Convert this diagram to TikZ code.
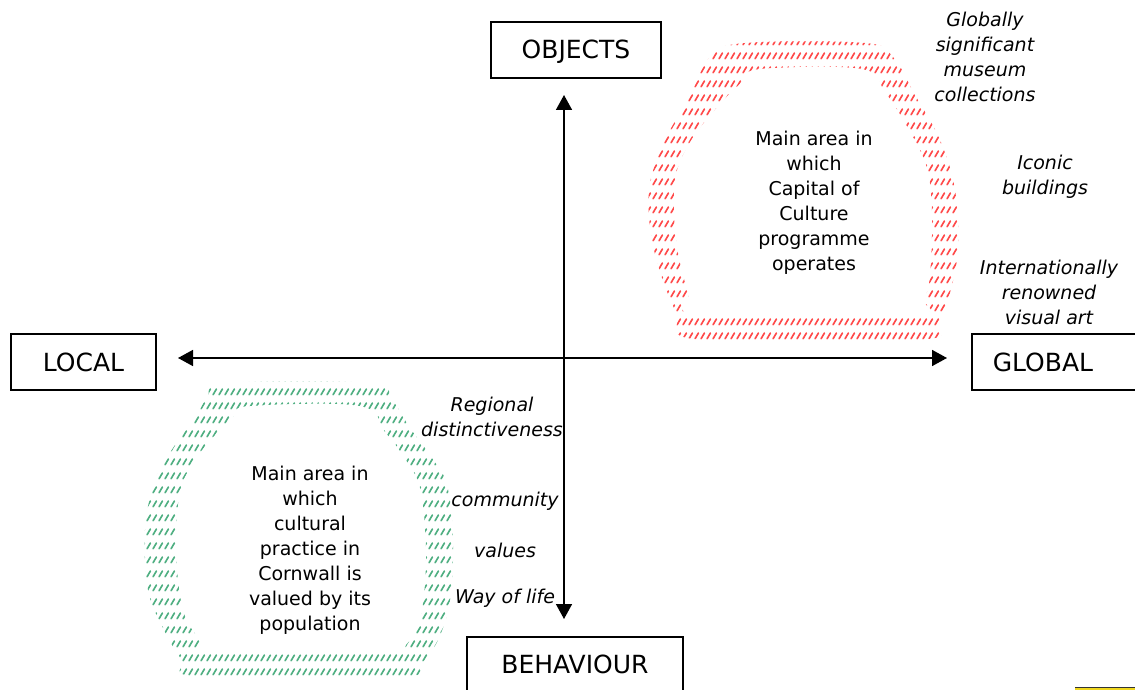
\documentclass[tikz,border=0pt]{standalone}
\usepackage{fontspec}
\setmainfont{DejaVu Sans}
\usetikzlibrary{arrows.meta,patterns}
\pgfdeclarepatternformonly{slashrows}{\pgfqpoint{0pt}{0pt}}{\pgfqpoint{6.4pt}{14pt}}{\pgfqpoint{6.4pt}{14pt}}{%
  \pgfsetlinewidth{1.8pt}\pgfsetroundcap
  \pgfpathmoveto{\pgfqpoint{1.2pt}{1.4pt}}\pgfpathlineto{\pgfqpoint{4.8pt}{7.4pt}}\pgfusepath{stroke}}
\definecolor{hatchred}{RGB}{255,75,75}
\definecolor{hatchgreen}{RGB}{80,175,130}
\definecolor{tagyellow}{RGB}{240,215,30}
\tikzset{
  labelbox/.style={draw, line width=1.5pt, font=\fontsize{25}{30}\selectfont, inner sep=0pt, text height=18pt, text depth=0pt},
  bodytext/.style={font=\fontsize{19}{25}\selectfont, align=center, inner sep=0pt},
  notetext/.style={font=\fontsize{19}{25}\selectfont\itshape, align=center, inner sep=0pt},
  axis/.style={line width=1.6pt, {Triangle[length=15pt,width=16pt]}-{Triangle[length=15pt,width=16pt]}},
  ring/.style={pattern=slashrows, even odd rule}
}
\begin{document}
\begin{tikzpicture}[x=1pt,y=-1pt]
\useasboundingbox (0,0) rectangle (1135,690);

% hatched rings
\fill[ring, pattern color=hatchred]
  plot[smooth cycle, tension=0.6] coordinates {(745,43) (865,43) (893,57) (915,95) (940,140) (955,190) (958,250) (948,300) (938,322) (920,340) (700,340) (676,312) (654,250) (649,190) (665,140) (688,100) (710,57)}
  plot[smooth cycle, tension=0.6] coordinates {(760,69) (862,69) (885,92) (908,128) (927,168) (932,215) (930,275) (924,300) (912,315) (702,316) (688,292) (676,240) (675,180) (690,142) (718,106) (742,82)};
\fill[ring, pattern color=hatchgreen]
  plot[smooth cycle, tension=0.6] coordinates {(227,383) (370,383) (392,400) (410,428) (432,458) (447,485) (453,540) (450,600) (438,640) (420,665) (400,677) (200,677) (182,660) (164,630) (148,590) (145,530) (155,480) (175,445) (195,418) (207,398)}
  plot[smooth cycle, tension=0.6] coordinates {(250,406) (360,406) (385,432) (406,460) (421,492) (426,560) (420,620) (406,645) (392,653) (215,653) (200,640) (183,610) (176,550) (180,492) (195,460) (215,435) (235,415)};

% axes
\coordinate (vtop) at (564,95);
\coordinate (vbot) at (564,619);
\coordinate (hleft) at (178,358);
\coordinate (hright) at (947,358);
\draw[axis] (vtop) -- (vbot);
\draw[axis] (hleft) -- (hright);

% label boxes
\node[labelbox, minimum width=170pt, minimum height=56pt] (objects) at (576,50) {OBJECTS};
\node[labelbox, minimum width=145pt, minimum height=56pt] (local) at (83.5,362) {LOCAL};
\node[labelbox, anchor=west, minimum height=56pt, text width=170pt, align=left, inner xsep=21pt] (global) at (971,362) {GLOBAL};
\node[labelbox, anchor=north, minimum width=216pt, minimum height=56pt] (behaviour) at (575,636) {BEHAVIOUR};

% area texts
\node[bodytext] (capital) at (814,202.5) {Main area in\\which\\Capital of\\Culture\\programme\\operates};
\node[bodytext] (cornwall) at (310,550.5) {Main area in\\which\\cultural\\practice in\\Cornwall is\\valued by its\\population};

% notes
\node[notetext] (museum) at (985,56.5) {Globally\\significant\\museum\\collections};
\node[notetext] (iconic) at (1045,176.5) {Iconic\\buildings};
\node[notetext] (intl) at (1049,292.5) {Internationally\\renowned\\visual art};
\node[notetext] (regional) at (492,417) {Regional\\distinctiveness};
\node[notetext] (community) at (505,501) {community};
\node[notetext] (values) at (505,550) {values};
\node[notetext] (wayoflife) at (505,598) {Way of life};

% yellow fragment at bottom right
\fill[tagyellow] (1075,688) rectangle (1140,700);
\draw[black!80, line width=1pt] (1075,687.5) -- (1140,687.5);
\end{tikzpicture}
\end{document}
